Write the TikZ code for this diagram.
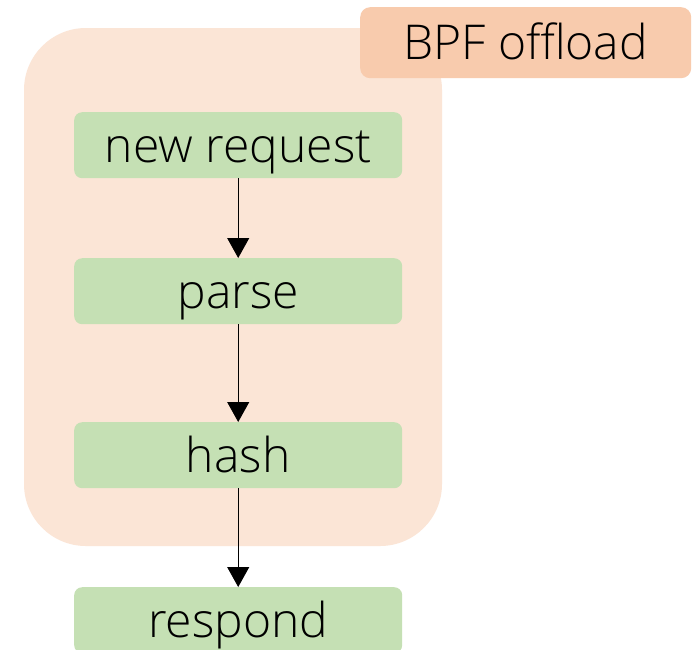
\documentclass[tikz,border=0pt]{standalone}
\usepackage{fontspec}
\setmainfont{Open Sans}[UprightFont={* Light}]
\usetikzlibrary{arrows.meta}
\definecolor{outerfill}{HTML}{FBE5D6}
\definecolor{labelfill}{HTML}{F8CBAD}
\definecolor{stepfill}{HTML}{C5E0B4}
\tikzset{
  x=1pt, y=-1pt,
  bigtext/.style={font=\fontsize{48}{54}\selectfont, text=black, text height=40pt, text depth=6pt, inner sep=0pt},
  stepbox/.style={bigtext, fill=stepfill, rounded corners=8pt, minimum width=328pt, minimum height=66pt},
  flow/.style={-{Triangle[length=20pt,width=22pt]}, line width=0.9pt, black},
}
\begin{document}
\begin{tikzpicture}
\clip (0,0) rectangle (692,649);
\useasboundingbox (0,0) rectangle (692,649);
\fill[white] (0,0) rectangle (692,649);
\fill[outerfill, rounded corners=62pt] (24,28) rectangle (442,546);
\node[bigtext, fill=labelfill, rounded corners=10pt, minimum width=331pt, minimum height=71pt, anchor=north west] (lbl) at (360,7) {BPF offload};
\node[stepbox, anchor=north west] (req) at (74,112) {new request};
\node[stepbox, anchor=north west] (parse) at (74,258) {parse};
\node[stepbox, anchor=north west] (hash) at (74,422) {hash};
\node[stepbox, anchor=north west] (resp) at (74,587) {respond};
\draw[flow] (req.south) -- (parse.north);
\draw[flow] (parse.south) -- (hash.north);
\draw[flow] (hash.south) -- (resp.north);
\end{tikzpicture}
\end{document}
